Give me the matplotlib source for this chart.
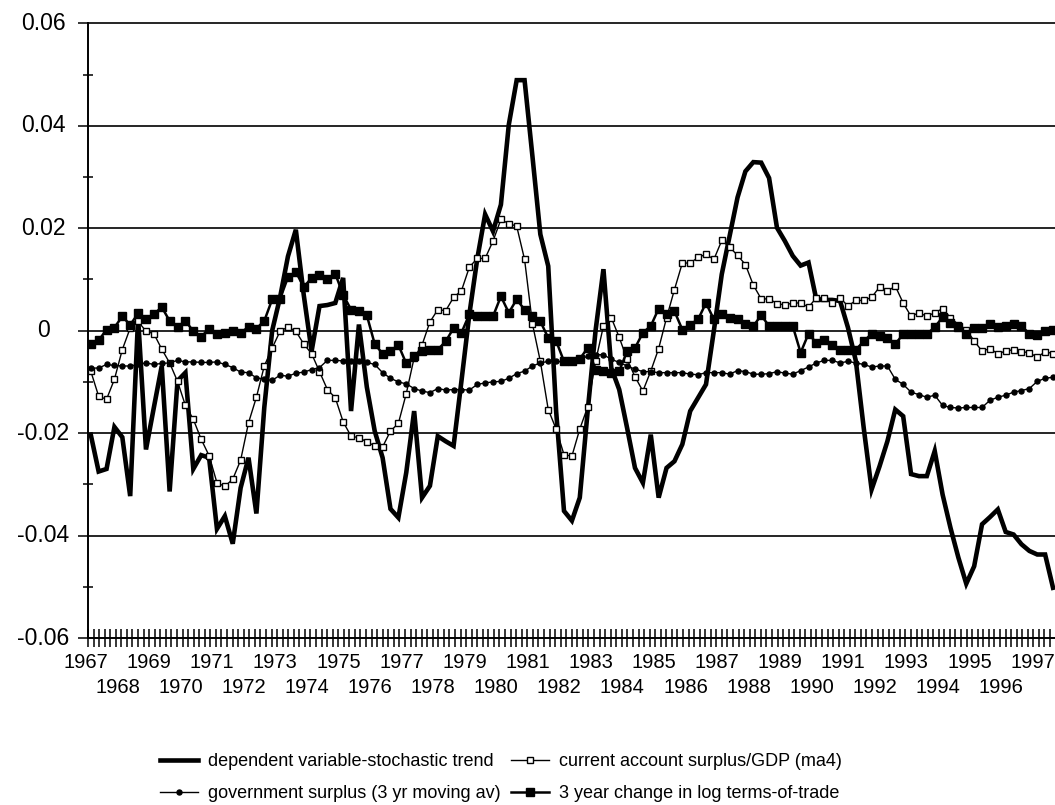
import numpy as np
import matplotlib
matplotlib.use("Agg")
import matplotlib.pyplot as plt
from matplotlib.lines import Line2D

plt.rcParams['font.family'] = ['Liberation Sans', 'DejaVu Sans']

# quarterly data 1967Q1 .. 1997Q3
years = list(range(1967, 1998))

dep_trend = [
    -0.0203, -0.0275, -0.0270, -0.0188, -0.0208, -0.0323, 0.0025, -0.0232, -0.0150, -0.0069,
    -0.0314, -0.0098, -0.0082, -0.0270, -0.0243, -0.0248, -0.0387, -0.0362, -0.0416, -0.0307,
    -0.0248, -0.0357, -0.0150, 0.0000, 0.0065, 0.0145, 0.0197, 0.0070, -0.0040, 0.0048,
    0.0050, 0.0054, 0.0103, -0.0157, 0.0012, -0.0110, -0.0196, -0.0248, -0.0348, -0.0365,
    -0.0277, -0.0157, -0.0326, -0.0303, -0.0206, -0.0216, -0.0225, -0.0098, 0.0032, 0.0140,
    0.0227, 0.0194, 0.0246, 0.0402, 0.0489, 0.0489, 0.0340, 0.0188, 0.0126, -0.0157,
    -0.0352, -0.0371, -0.0326, -0.0157, 0.0000, 0.0120, -0.0073, -0.0115, -0.0190, -0.0268,
    -0.0297, -0.0203, -0.0326, -0.0268, -0.0255, -0.0222, -0.0157, -0.0131, -0.0105, 0.0000,
    0.0110, 0.0185, 0.0260, 0.0311, 0.0329, 0.0328, 0.0298, 0.0201, 0.0175, 0.0146,
    0.0127, 0.0133, 0.0060, 0.0060, 0.0060, 0.0058, 0.0006, -0.0059, -0.0190, -0.0310,
    -0.0265, -0.0216, -0.0154, -0.0167, -0.0280, -0.0284, -0.0284, -0.0235, -0.0320, -0.0385,
    -0.0443, -0.0494, -0.0460, -0.0378, -0.0364, -0.0349, -0.0393, -0.0398, -0.0417, -0.0430,
    -0.0437, -0.0437, -0.0502,
]

ca_surplus = [
    -0.0079, -0.0128, -0.0134, -0.0095, -0.0037, 0.0005, 0.0018, -0.0001, -0.0006, -0.0036,
    -0.0063, -0.0099, -0.0146, -0.0173, -0.0212, -0.0244, -0.0297, -0.0304, -0.0290, -0.0253,
    -0.0180, -0.0130, -0.0069, -0.0034, -0.0001, 0.0007, -0.0001, -0.0026, -0.0045, -0.0080,
    -0.0115, -0.0131, -0.0178, -0.0206, -0.0209, -0.0217, -0.0225, -0.0227, -0.0196, -0.0181,
    -0.0123, -0.0053, -0.0028, 0.0017, 0.0041, 0.0039, 0.0065, 0.0078, 0.0124, 0.0141,
    0.0141, 0.0175, 0.0217, 0.0209, 0.0204, 0.0139, 0.0013, -0.0060, -0.0154, -0.0192,
    -0.0242, -0.0245, -0.0192, -0.0149, -0.0060, 0.0009, 0.0025, -0.0013, -0.0056, -0.0090,
    -0.0118, -0.0079, -0.0035, 0.0025, 0.0080, 0.0132, 0.0132, 0.0143, 0.0149, 0.0139,
    0.0176, 0.0163, 0.0147, 0.0129, 0.0089, 0.0062, 0.0062, 0.0053, 0.0050, 0.0054,
    0.0054, 0.0046, 0.0064, 0.0064, 0.0054, 0.0064, 0.0048, 0.0059, 0.0059, 0.0065,
    0.0085, 0.0077, 0.0087, 0.0054, 0.0028, 0.0035, 0.0028, 0.0035, 0.0043, 0.0025,
    0.0012, 0.0002, -0.0020, -0.0040, -0.0035, -0.0045, -0.0040, -0.0037, -0.0041, -0.0043,
    -0.0052, -0.0041, -0.0045,
]

gov_surplus = [
    -0.0073, -0.0073, -0.0066, -0.0068, -0.0069, -0.0069, -0.0066, -0.0063, -0.0066, -0.0064,
    -0.0063, -0.0058, -0.0061, -0.0061, -0.0062, -0.0062, -0.0061, -0.0066, -0.0072, -0.0081,
    -0.0082, -0.0092, -0.0095, -0.0097, -0.0087, -0.0089, -0.0083, -0.0081, -0.0076, -0.0072,
    -0.0058, -0.0058, -0.0059, -0.0059, -0.0060, -0.0062, -0.0066, -0.0082, -0.0093, -0.0100,
    -0.0104, -0.0113, -0.0118, -0.0121, -0.0113, -0.0116, -0.0115, -0.0115, -0.0116, -0.0105,
    -0.0102, -0.0100, -0.0099, -0.0093, -0.0084, -0.0079, -0.0069, -0.0063, -0.0060, -0.0060,
    -0.0061, -0.0060, -0.0056, -0.0050, -0.0047, -0.0047, -0.0056, -0.0062, -0.0069, -0.0075,
    -0.0080, -0.0080, -0.0082, -0.0082, -0.0082, -0.0082, -0.0085, -0.0086, -0.0082, -0.0082,
    -0.0082, -0.0085, -0.0078, -0.0080, -0.0085, -0.0085, -0.0084, -0.0080, -0.0083, -0.0085,
    -0.0078, -0.0071, -0.0063, -0.0058, -0.0058, -0.0063, -0.0060, -0.0063, -0.0066, -0.0071,
    -0.0069, -0.0069, -0.0095, -0.0105, -0.0120, -0.0125, -0.0130, -0.0126, -0.0146, -0.0150,
    -0.0151, -0.0150, -0.0150, -0.0150, -0.0136, -0.0130, -0.0126, -0.0120, -0.0117, -0.0113,
    -0.0099, -0.0093, -0.0091,
]

tot_change = [
    -0.0026, -0.0019, 0.0002, 0.0006, 0.0028, 0.0011, 0.0034, 0.0022, 0.0032, 0.0046,
    0.0019, 0.0007, 0.0019, -0.0001, -0.0012, 0.0004, -0.0007, -0.0004, -0.0001, -0.0004,
    0.0007, 0.0004, 0.0019, 0.0061, 0.0062, 0.0104, 0.0115, 0.0085, 0.0103, 0.0108,
    0.0100, 0.0111, 0.0070, 0.0041, 0.0038, 0.0030, -0.0026, -0.0045, -0.0040, -0.0028,
    -0.0064, -0.0050, -0.0040, -0.0037, -0.0037, -0.0021, 0.0005, -0.0004, 0.0032, 0.0028,
    0.0028, 0.0028, 0.0067, 0.0035, 0.0061, 0.0041, 0.0028, 0.0018, -0.0014, -0.0020,
    -0.0060, -0.0060, -0.0055, -0.0034, -0.0076, -0.0078, -0.0082, -0.0079, -0.0040, -0.0034,
    -0.0004, 0.0009, 0.0043, 0.0032, 0.0038, 0.0002, 0.0012, 0.0022, 0.0054, 0.0022,
    0.0032, 0.0024, 0.0022, 0.0013, 0.0009, 0.0030, 0.0009, 0.0010, 0.0010, 0.0009,
    -0.0043, -0.0006, -0.0024, -0.0019, -0.0028, -0.0037, -0.0037, -0.0037, -0.0021, -0.0006,
    -0.0011, -0.0015, -0.0026, -0.0007, -0.0007, -0.0007, -0.0007, 0.0007, 0.0026, 0.0015,
    0.0007, -0.0007, 0.0005, 0.0005, 0.0013, 0.0007, 0.0010, 0.0013, 0.0009, -0.0006,
    -0.0008, -0.0001, 0.0001,
]

labels = ["dependent variable-stochastic trend",
          "current account surplus/GDP (ma4)",
          "government surplus (3 yr moving av)",
          "3 year change in log terms-of-trade"]

W, H = 1055, 805
fig = plt.figure(figsize=(W / 100, H / 100), dpi=100)
ax_l, ax_r, ax_t, ax_b = 88, 1055, 23.3, 638
ax = fig.add_axes([ax_l / W, 1 - ax_b / H, (ax_r - ax_l) / W, (ax_b - ax_t) / H])

t = np.arange(len(dep_trend))

ax.plot(t, dep_trend, color='black', lw=3.3, solid_joinstyle='miter', zorder=3)
ax.plot(t, ca_surplus, color='black', lw=1.0, marker='s', ms=4.8,
        mfc='white', mec='black', mew=1.0, zorder=4)
ax.plot(t, gov_surplus, color='black', lw=1.0, marker='o', ms=3.6,
        mfc='black', mec='black', zorder=4)
ax.plot(t, tot_change, color='black', lw=1.8, marker='s', ms=5.4,
        mfc='black', mec='black', zorder=5)

ax.set_xlim(-0.35, 122.25)
ax.set_ylim(-0.06, 0.06)

# horizontal gridlines
for v in np.arange(-0.04, 0.061, 0.02):
    ax.axhline(v, color='black', lw=1.2, zorder=1, clip_on=False)

for s in ['top', 'right']:
    ax.spines[s].set_visible(False)
for s in ['left', 'bottom']:
    ax.spines[s].set_linewidth(1.4)
    ax.spines[s].set_color('black')

# y axis
yt = np.arange(-0.06, 0.061, 0.02)
ax.set_yticks(yt)
ax.set_yticklabels([])
ax.set_yticks(np.arange(-0.05, 0.06, 0.02), minor=True)
ax.tick_params(axis='y', which='major', direction='out', length=7.2, width=1.1)
ax.tick_params(axis='y', which='minor', direction='inout', length=7.2, width=1.1)
ylabs = ['-0.06', '-0.04', '-0.02', '0', '0.02', '0.04', '0.06']
for v, s in zip(yt, ylabs):
    ax.text(-0.0465, v, s, transform=ax.get_yaxis_transform(), ha='center',
            va='center', fontsize=16.5)

# x axis ticks
ax.set_xticks([])
ax.set_xticks(np.arange(-0.35, 122.3, 0.705), minor=True)
ax.tick_params(axis='x', which='minor', direction='inout', length=13, width=1.1)
ax.tick_params(axis='x', which='major', length=0)

hax = ax_b - ax_t
for y in years:
    k = y - 1967
    pos = 4 * k - 0.6
    if k % 2 == 0:
        yy = -(668.3 - ax_b) / hax
    else:
        yy = -(692.5 - ax_b) / hax
    ax.text(pos, yy, str(y), transform=ax.get_xaxis_transform(), ha='center',
            va='baseline', fontsize=14.5)

handles = [
    Line2D([], [], color='black', lw=3.3),
    Line2D([], [], color='black', lw=1.0, marker='o', ms=3.6, mfc='black'),
    Line2D([], [], color='black', lw=1.0, marker='s', ms=4.8, mfc='white', mew=1.0),
    Line2D([], [], color='black', lw=1.8, marker='s', ms=5.4, mfc='black'),
]
leg_labels = [labels[0], labels[2], labels[1], labels[3]]
fig.legend(handles, leg_labels, ncol=2, loc='upper left',
           bbox_to_anchor=(160 / W, 1 - 753 / H), frameon=False, fontsize=13,
           handlelength=2.1, handletextpad=0.55, columnspacing=0.6,
           labelspacing=0.85, numpoints=1, borderaxespad=0, borderpad=0)

fig.savefig('out.png', dpi=100)
